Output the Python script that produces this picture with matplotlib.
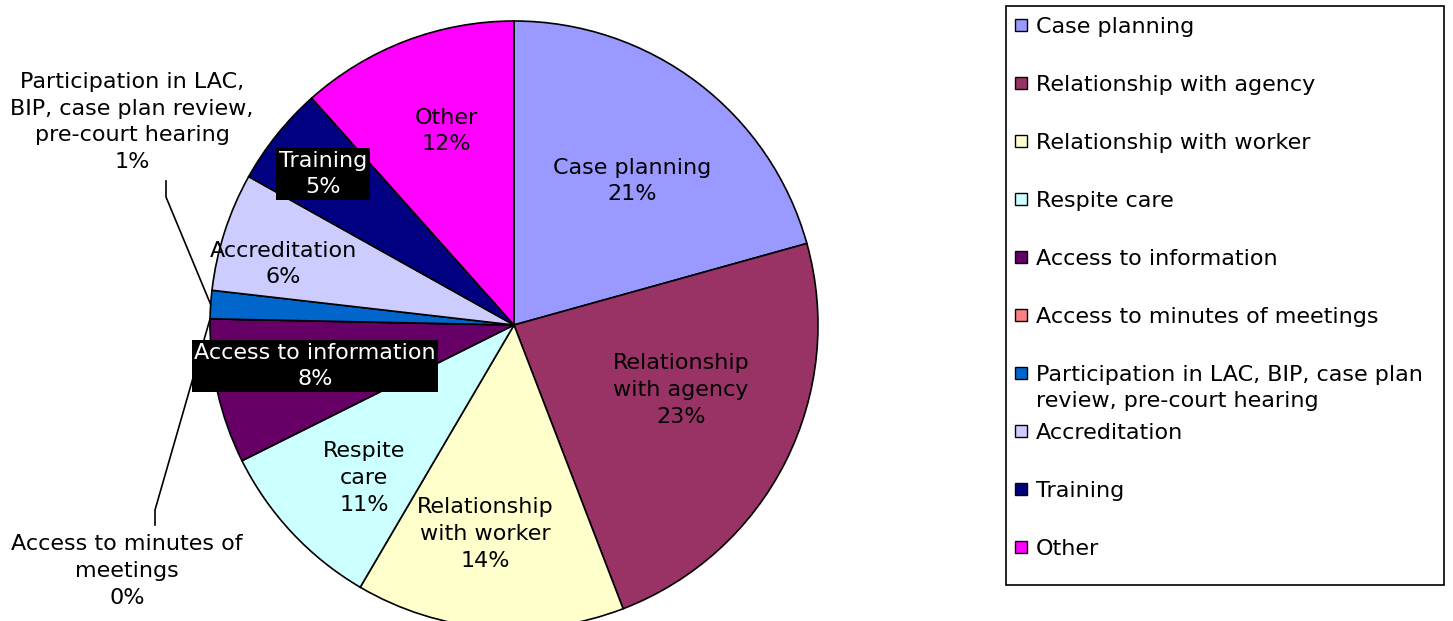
import numpy as np
import matplotlib.pyplot as plt
from matplotlib.patches import Rectangle

W, H = 1453, 621

categories = ['Case planning', 'Relationship with agency', 'Relationship with worker',
              'Respite care', 'Access to information', 'Access to minutes of meetings',
              'Participation in LAC, BIP, case plan\nreview, pre-court hearing',
              'Accreditation', 'Training', 'Other']
# shares as drawn in the pie (label text below is what the chart prints)
shares = [20.7, 23.5, 14.3, 9.2, 7.7, 0.0, 1.5, 6.3, 5.3, 11.6]
pct_labels = ['21%', '23%', '14%', '11%', '8%', '0%', '1%', '6%', '5%', '12%']
slice_names = ['Case planning', 'Relationship\nwith agency', 'Relationship\nwith worker',
               'Respite\ncare', 'Access to information', 'Access to minutes of\nmeetings',
               'Participation in LAC,\nBIP, case plan review,\npre-court hearing',
               'Accreditation', 'Training', 'Other']
colors = ['#9999FF', '#993366', '#FFFFCC', '#CCFFFF', '#660066', '#FF8080',
          '#0066CC', '#CCCCFF', '#000080', '#FF00FF']


def px(x, y):
    # image pixel (from top) -> data coords (y up)
    return x, H - y


fig = plt.figure(figsize=(W / 100, H / 100), dpi=100)
ax = fig.add_axes([0, 0, 1, 1])

cx, cy = px(514, 325)
R = 304
wedges, _ = ax.pie(shares, colors=colors, startangle=90, counterclock=False,
                   center=(cx, cy), radius=R, frame=True,
                   wedgeprops=dict(edgecolor='black', linewidth=1.2))
ax.set_xlim(0, W)
ax.set_ylim(0, H)
ax.set_aspect('equal')
ax.axis('off')

fs = 16
# label positions (image pixels) for each slice
label_pos = [(632, 181), (681, 390), (485, 534), (364, 478), (315, 366),
             (127, 571), (132, 122), (283, 264), (323, 174), (446, 131)]
dark = {4, 8}
for i, (name, pct) in enumerate(zip(slice_names, pct_labels)):
    x, y = px(*label_pos[i])
    kw = dict(ha='center', va='center', fontsize=fs, linespacing=1.42)
    if i in dark:
        ax.text(x, y, name + '\n' + pct, color='white',
                bbox=dict(facecolor='black', edgecolor='none', pad=2), **kw)
    else:
        ax.text(x, y, name + '\n' + pct, color='black', **kw)

# leader lines for the two outside labels
elbows = {6: [(166, 181), (166, 197)], 5: [(155, 525), (155, 510)]}
for i, pts in elbows.items():
    w = wedges[i]
    mid = np.deg2rad((w.theta1 + w.theta2) / 2)
    ex, ey = cx + R * np.cos(mid), cy + R * np.sin(mid)
    xs = [px(*p)[0] for p in pts] + [ex]
    ys = [px(*p)[1] for p in pts] + [ey]
    ax.plot(xs, ys, color='black', linewidth=1.2)

# legend drawn as in the original: fixed slots, wrapped text flows down
lx0, ly0 = px(1006, 585)
ax.add_patch(Rectangle((lx0, ly0), 1444 - 1006, 585 - 6, facecolor='white',
                       edgecolor='black', linewidth=1.2))
for i, (cat, col) in enumerate(zip(categories, colors)):
    yc = 25 + 58 * i
    sx, sy = px(1015, yc + 6)
    ax.add_patch(Rectangle((sx, sy), 12, 12, facecolor=col, edgecolor='black',
                           linewidth=1.0))
    for j, line in enumerate(cat.split('\n')):
        tx, ty = px(1036, yc + 8 + 26 * j)
        ax.text(tx, ty, line, ha='left', va='baseline', fontsize=fs)

fig.savefig('out.png', dpi=100)
